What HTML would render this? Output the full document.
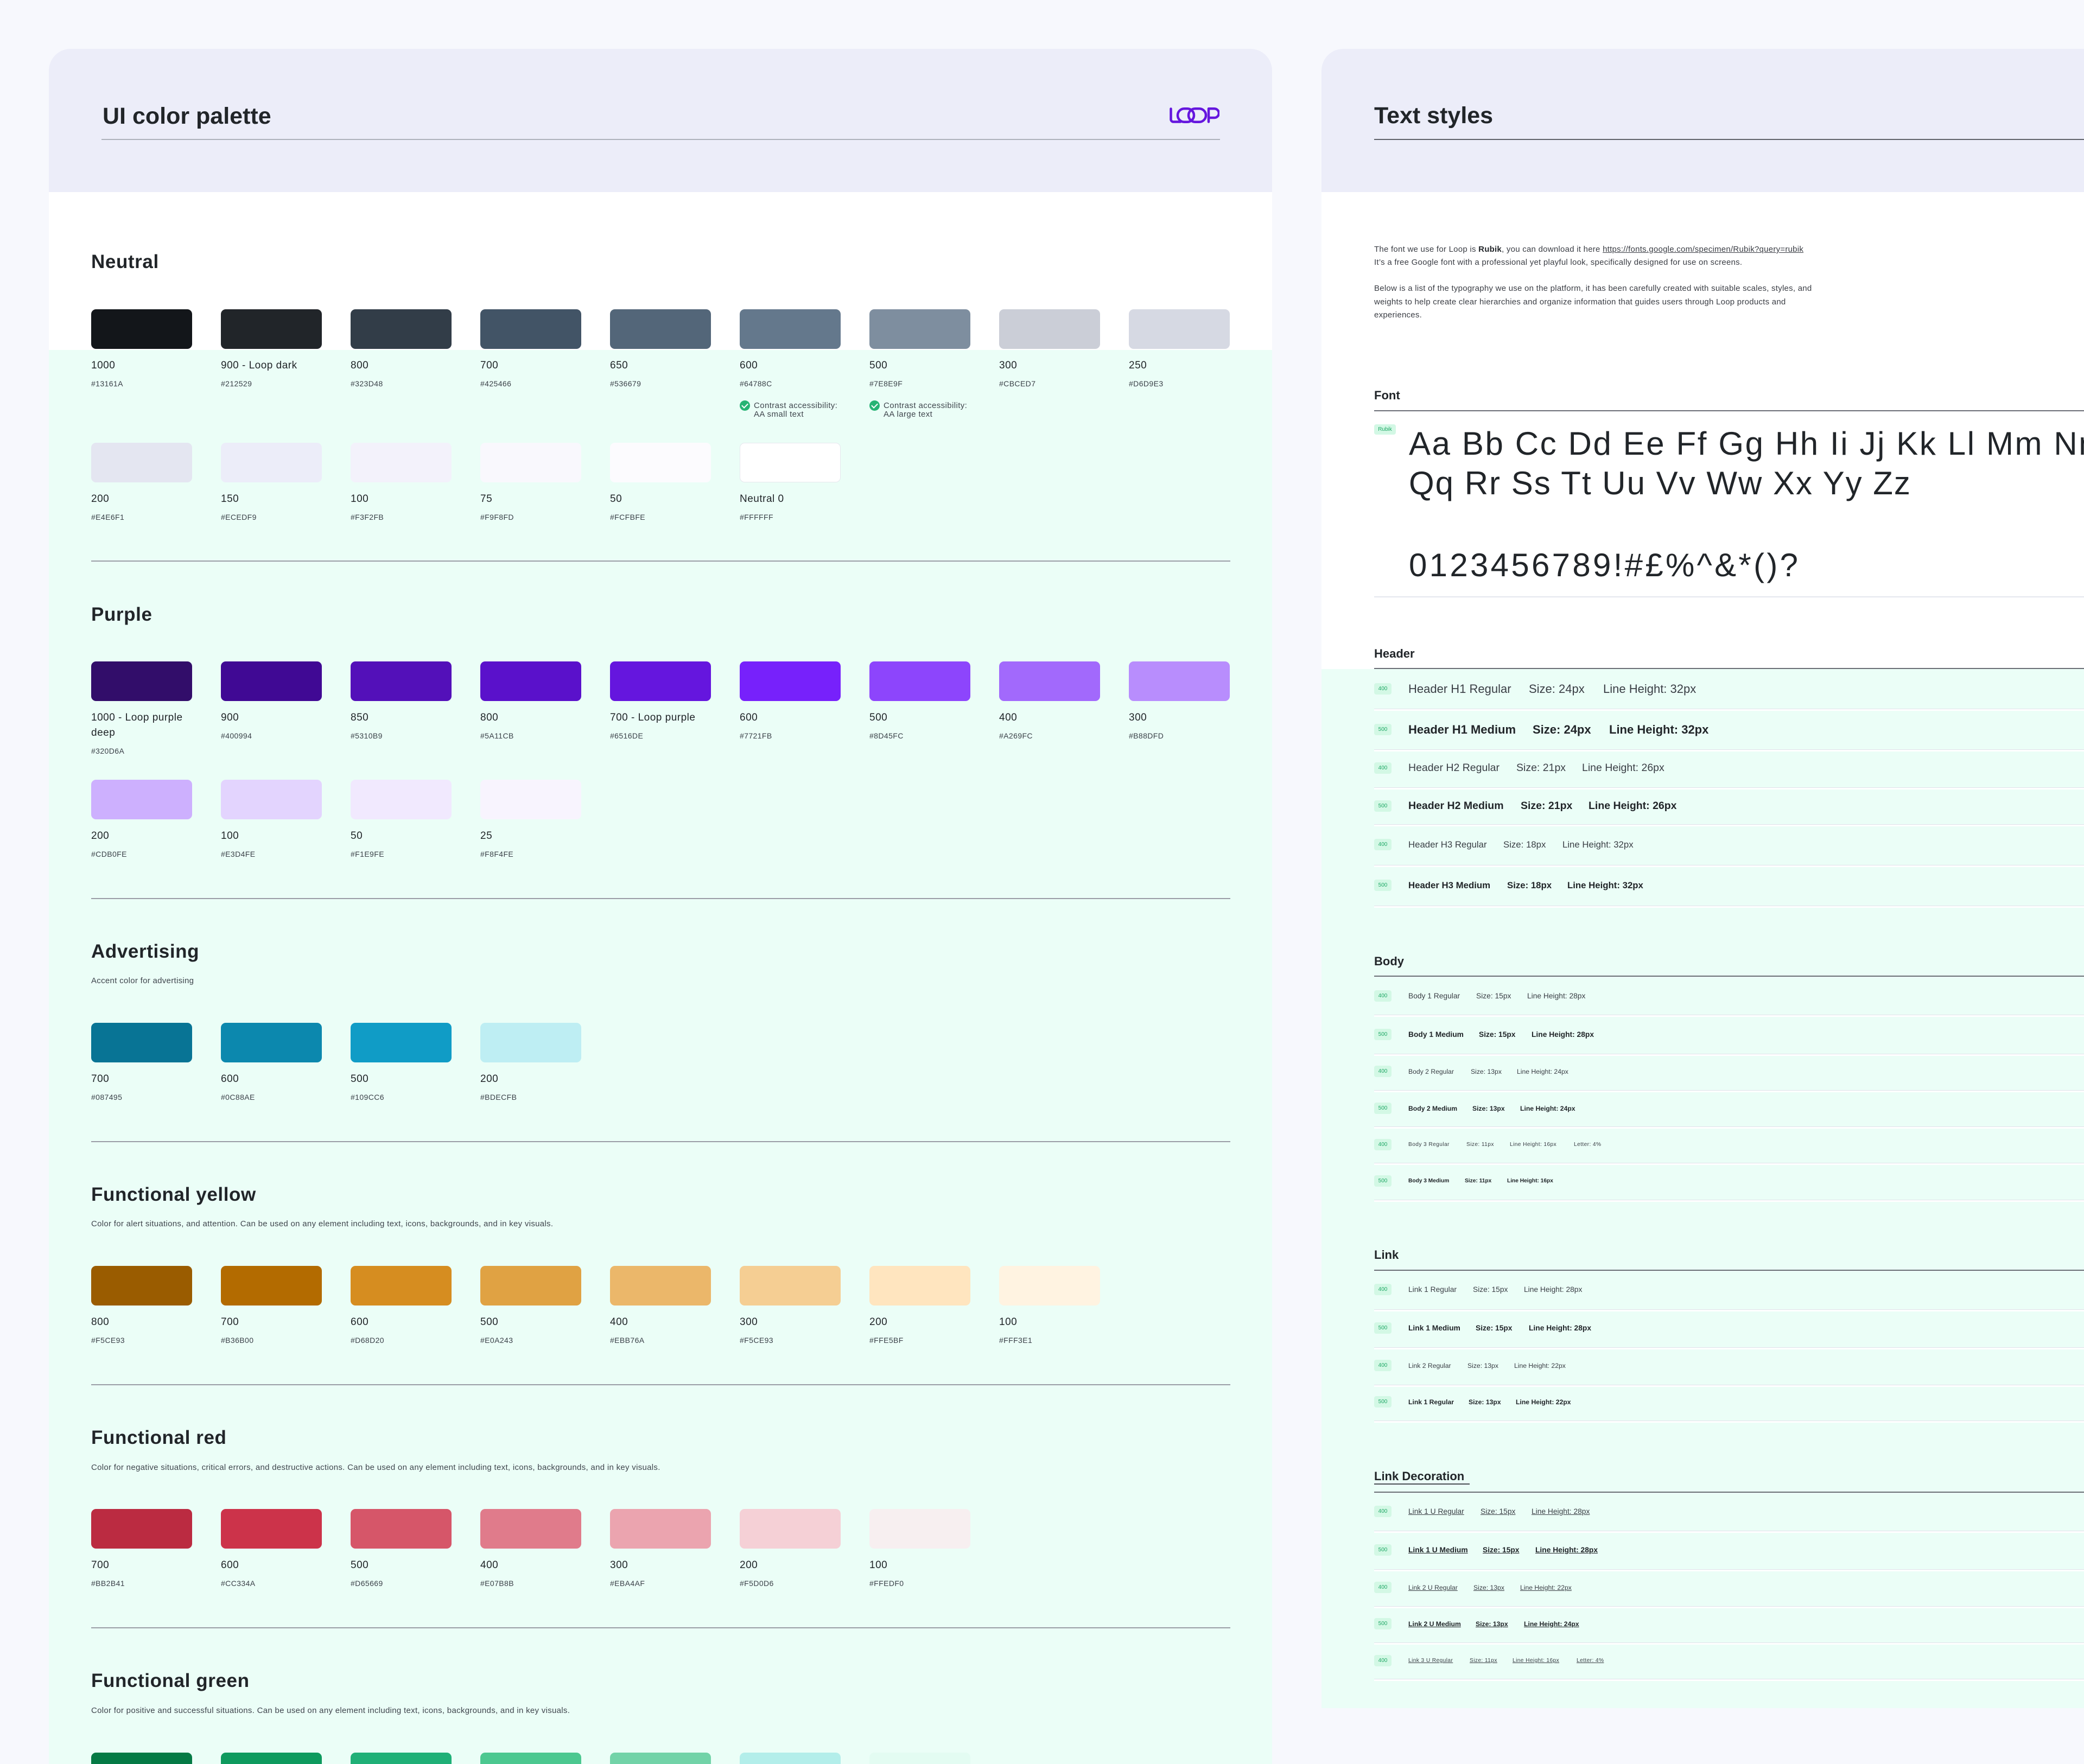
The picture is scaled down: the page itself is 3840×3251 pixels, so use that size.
<!DOCTYPE html>
<html><head><meta charset="utf-8">
<style>
*{margin:0;padding:0;box-sizing:border-box}
html,body{width:3840px;height:3251px;overflow:hidden;background:#F7F8FD;font-family:"Liberation Sans",sans-serif}
#root{position:relative;width:3840px;height:3251px;overflow:hidden}
.a{position:absolute}
.t{position:absolute;white-space:nowrap;line-height:1}
.sw{position:absolute;width:186px;height:73px;border-radius:9px}
.lb{font-size:19px;color:#212529;letter-spacing:.5px}
.hx{font-size:14px;color:#3a4048;letter-spacing:.4px}
.h{font-size:35px;font-weight:bold;color:#212529;letter-spacing:.6px}
.sb{font-size:15px;color:#3f454d;letter-spacing:.3px}
.dv{position:absolute;left:168px;width:2099px;height:2px;background:#9A9DA6}
.ck{position:absolute;width:19px;height:19px;border-radius:50%;background:#27B474}
.ck:after{content:"";position:absolute;left:6px;top:3px;width:5px;height:9px;border:solid #fff;border-width:0 2px 2px 0;transform:rotate(45deg)}
.ct{font-size:15px;color:#3f454d;letter-spacing:.4px}
.sh{font-size:22px;font-weight:bold;color:#212529;left:2532px}
.shl{position:absolute;left:2532px;width:1400px;height:2px;background:#6a6d75}
.sp{position:absolute;left:2532px;width:1400px;height:4px;border-top:1px solid #E0E2EA;background:#fff}
.tg{position:absolute;left:2532px;width:32px;height:21px;border-radius:4px;background:#D3F8E5;color:#1FA866;font-size:10px;line-height:21px;text-align:center}
.r{color:#3a3e45}
.m{color:#212529;font-weight:bold}
.u{text-decoration:underline}
.p{font-size:15px;color:#3a3d44;letter-spacing:.25px;left:2532px}
</style></head><body><div id="root">

<!-- LEFT CARD -->
<div class="a" style="left:90px;top:90px;width:2254px;height:3200px;background:#fff;border-radius:40px 40px 0 0;overflow:hidden">
  <div class="a" style="left:0;top:0;width:2254px;height:264px;background:#ECEDF9"></div>
  <div class="a" style="left:0;top:555px;width:2254px;height:2700px;background:#EBFEF7"></div>
</div>
<div class="t" style="left:189px;top:193px;font-size:43px;font-weight:bold;color:#212529">UI color palette</div>
<div class="a" style="left:187px;top:256px;width:2061px;height:2px;background:#AEB2BC"></div>
<svg class="a" style="left:2155px;top:198px" width="92" height="29" viewBox="0 0 92 29">
 <g fill="none" stroke="#6516DE" stroke-width="4.5" stroke-linecap="round" stroke-linejoin="round">
  <path d="M2.5,2.5 V22 a4.5,4.5 0 0 0 4.5,4.5 H20"/>
  <rect x="15" y="2.25" width="30" height="24.5" rx="12.25"/>
  <rect x="35" y="2.25" width="32" height="24.5" rx="12.25"/>
  <path d="M72,26.5 V2.25 H82.5 a8.4,8.4 0 0 1 0,16.8 H72"/>
 </g>
</svg>

<!-- Neutral -->
<div class="t h" style="left:168px;top:465px">Neutral</div>
<div class="sw" style="left:168px;top:570px;background:#13161A"></div>
<div class="sw" style="left:407px;top:570px;background:#212529"></div>
<div class="sw" style="left:646px;top:570px;background:#323D48"></div>
<div class="sw" style="left:885px;top:570px;background:#425466"></div>
<div class="sw" style="left:1124px;top:570px;background:#536679"></div>
<div class="sw" style="left:1363px;top:570px;background:#64788C"></div>
<div class="sw" style="left:1602px;top:570px;background:#7E8E9F"></div>
<div class="sw" style="left:1841px;top:570px;background:#CBCED7"></div>
<div class="sw" style="left:2080px;top:570px;background:#D6D9E3"></div>
<div class="t lb" style="left:168px;top:664px">1000</div><div class="t hx" style="left:168px;top:700px">#13161A</div>
<div class="t lb" style="left:407px;top:664px">900 - Loop dark</div><div class="t hx" style="left:407px;top:700px">#212529</div>
<div class="t lb" style="left:646px;top:664px">800</div><div class="t hx" style="left:646px;top:700px">#323D48</div>
<div class="t lb" style="left:885px;top:664px">700</div><div class="t hx" style="left:885px;top:700px">#425466</div>
<div class="t lb" style="left:1124px;top:664px">650</div><div class="t hx" style="left:1124px;top:700px">#536679</div>
<div class="t lb" style="left:1363px;top:664px">600</div><div class="t hx" style="left:1363px;top:700px">#64788C</div>
<div class="t lb" style="left:1602px;top:664px">500</div><div class="t hx" style="left:1602px;top:700px">#7E8E9F</div>
<div class="t lb" style="left:1841px;top:664px">300</div><div class="t hx" style="left:1841px;top:700px">#CBCED7</div>
<div class="t lb" style="left:2080px;top:664px">250</div><div class="t hx" style="left:2080px;top:700px">#D6D9E3</div>
<div class="ck" style="left:1363px;top:738px"></div>
<div class="t ct" style="left:1389px;top:740px">Contrast accessibility:</div>
<div class="t ct" style="left:1389px;top:756px">AA small text</div>
<div class="ck" style="left:1602px;top:738px"></div>
<div class="t ct" style="left:1628px;top:740px">Contrast accessibility:</div>
<div class="t ct" style="left:1628px;top:756px">AA large text</div>

<div class="sw" style="left:168px;top:816px;background:#E4E6F1"></div>
<div class="sw" style="left:407px;top:816px;background:#ECEDF9"></div>
<div class="sw" style="left:646px;top:816px;background:#F3F2FB"></div>
<div class="sw" style="left:885px;top:816px;background:#F9F8FD"></div>
<div class="sw" style="left:1124px;top:816px;background:#FCFBFE"></div>
<div class="sw" style="left:1363px;top:816px;background:#FFFFFF;border:1px solid #E6E7EE"></div>
<div class="t lb" style="left:168px;top:910px">200</div><div class="t hx" style="left:168px;top:946px">#E4E6F1</div>
<div class="t lb" style="left:407px;top:910px">150</div><div class="t hx" style="left:407px;top:946px">#ECEDF9</div>
<div class="t lb" style="left:646px;top:910px">100</div><div class="t hx" style="left:646px;top:946px">#F3F2FB</div>
<div class="t lb" style="left:885px;top:910px">75</div><div class="t hx" style="left:885px;top:946px">#F9F8FD</div>
<div class="t lb" style="left:1124px;top:910px">50</div><div class="t hx" style="left:1124px;top:946px">#FCFBFE</div>
<div class="t lb" style="left:1363px;top:910px">Neutral 0</div><div class="t hx" style="left:1363px;top:946px">#FFFFFF</div>

<div class="dv" style="top:1033px"></div>

<!-- Purple -->
<div class="t h" style="left:168px;top:1115px">Purple</div>
<div class="sw" style="left:168px;top:1219px;background:#320D6A"></div>
<div class="sw" style="left:407px;top:1219px;background:#400994"></div>
<div class="sw" style="left:646px;top:1219px;background:#5310B9"></div>
<div class="sw" style="left:885px;top:1219px;background:#5A11CB"></div>
<div class="sw" style="left:1124px;top:1219px;background:#6516DE"></div>
<div class="sw" style="left:1363px;top:1219px;background:#7721FB"></div>
<div class="sw" style="left:1602px;top:1219px;background:#8D45FC"></div>
<div class="sw" style="left:1841px;top:1219px;background:#A269FC"></div>
<div class="sw" style="left:2080px;top:1219px;background:#B88DFD"></div>
<div class="t lb" style="left:168px;top:1313px">1000 - Loop purple</div>
<div class="t lb" style="left:168px;top:1341px">deep</div>
<div class="t hx" style="left:168px;top:1377px">#320D6A</div>
<div class="t lb" style="left:407px;top:1313px">900</div><div class="t hx" style="left:407px;top:1349px">#400994</div>
<div class="t lb" style="left:646px;top:1313px">850</div><div class="t hx" style="left:646px;top:1349px">#5310B9</div>
<div class="t lb" style="left:885px;top:1313px">800</div><div class="t hx" style="left:885px;top:1349px">#5A11CB</div>
<div class="t lb" style="left:1124px;top:1313px">700 - Loop purple</div><div class="t hx" style="left:1124px;top:1349px">#6516DE</div>
<div class="t lb" style="left:1363px;top:1313px">600</div><div class="t hx" style="left:1363px;top:1349px">#7721FB</div>
<div class="t lb" style="left:1602px;top:1313px">500</div><div class="t hx" style="left:1602px;top:1349px">#8D45FC</div>
<div class="t lb" style="left:1841px;top:1313px">400</div><div class="t hx" style="left:1841px;top:1349px">#A269FC</div>
<div class="t lb" style="left:2080px;top:1313px">300</div><div class="t hx" style="left:2080px;top:1349px">#B88DFD</div>
<div class="sw" style="left:168px;top:1437px;background:#CDB0FE"></div>
<div class="sw" style="left:407px;top:1437px;background:#E3D4FE"></div>
<div class="sw" style="left:646px;top:1437px;background:#F1E9FE"></div>
<div class="sw" style="left:885px;top:1437px;background:#F8F4FE"></div>
<div class="t lb" style="left:168px;top:1531px">200</div><div class="t hx" style="left:168px;top:1567px">#CDB0FE</div>
<div class="t lb" style="left:407px;top:1531px">100</div><div class="t hx" style="left:407px;top:1567px">#E3D4FE</div>
<div class="t lb" style="left:646px;top:1531px">50</div><div class="t hx" style="left:646px;top:1567px">#F1E9FE</div>
<div class="t lb" style="left:885px;top:1531px">25</div><div class="t hx" style="left:885px;top:1567px">#F8F4FE</div>

<div class="dv" style="top:1655px"></div>

<!-- Advertising -->
<div class="t h" style="left:168px;top:1736px">Advertising</div>
<div class="t sb" style="left:168px;top:1800px">Accent color for advertising</div>
<div class="sw" style="left:168px;top:1885px;background:#087495"></div>
<div class="sw" style="left:407px;top:1885px;background:#0C88AE"></div>
<div class="sw" style="left:646px;top:1885px;background:#109CC6"></div>
<div class="sw" style="left:885px;top:1885px;background:#BEEEF3"></div>
<div class="t lb" style="left:168px;top:1979px">700</div><div class="t hx" style="left:168px;top:2015px">#087495</div>
<div class="t lb" style="left:407px;top:1979px">600</div><div class="t hx" style="left:407px;top:2015px">#0C88AE</div>
<div class="t lb" style="left:646px;top:1979px">500</div><div class="t hx" style="left:646px;top:2015px">#109CC6</div>
<div class="t lb" style="left:885px;top:1979px">200</div><div class="t hx" style="left:885px;top:2015px">#BDECFB</div>

<div class="dv" style="top:2103px"></div>

<!-- Yellow -->
<div class="t h" style="left:168px;top:2184px">Functional yellow</div>
<div class="t sb" style="left:168px;top:2248px">Color for alert situations, and attention. Can be used on any element including text, icons, backgrounds, and in key visuals.</div>
<div class="sw" style="left:168px;top:2333px;background:#9A5C00"></div>
<div class="sw" style="left:407px;top:2333px;background:#B36B00"></div>
<div class="sw" style="left:646px;top:2333px;background:#D68D20"></div>
<div class="sw" style="left:885px;top:2333px;background:#E0A243"></div>
<div class="sw" style="left:1124px;top:2333px;background:#EBB76A"></div>
<div class="sw" style="left:1363px;top:2333px;background:#F5CE93"></div>
<div class="sw" style="left:1602px;top:2333px;background:#FFE5BF"></div>
<div class="sw" style="left:1841px;top:2333px;background:#FFF3E1"></div>
<div class="t lb" style="left:168px;top:2427px">800</div><div class="t hx" style="left:168px;top:2463px">#F5CE93</div>
<div class="t lb" style="left:407px;top:2427px">700</div><div class="t hx" style="left:407px;top:2463px">#B36B00</div>
<div class="t lb" style="left:646px;top:2427px">600</div><div class="t hx" style="left:646px;top:2463px">#D68D20</div>
<div class="t lb" style="left:885px;top:2427px">500</div><div class="t hx" style="left:885px;top:2463px">#E0A243</div>
<div class="t lb" style="left:1124px;top:2427px">400</div><div class="t hx" style="left:1124px;top:2463px">#EBB76A</div>
<div class="t lb" style="left:1363px;top:2427px">300</div><div class="t hx" style="left:1363px;top:2463px">#F5CE93</div>
<div class="t lb" style="left:1602px;top:2427px">200</div><div class="t hx" style="left:1602px;top:2463px">#FFE5BF</div>
<div class="t lb" style="left:1841px;top:2427px">100</div><div class="t hx" style="left:1841px;top:2463px">#FFF3E1</div>

<div class="dv" style="top:2551px"></div>

<!-- Red -->
<div class="t h" style="left:168px;top:2632px">Functional red</div>
<div class="t sb" style="left:168px;top:2697px">Color for negative situations, critical errors, and destructive actions. Can be used on any element including text, icons, backgrounds, and in key visuals.</div>
<div class="sw" style="left:168px;top:2781px;background:#BB2B41"></div>
<div class="sw" style="left:407px;top:2781px;background:#CC334A"></div>
<div class="sw" style="left:646px;top:2781px;background:#D65669"></div>
<div class="sw" style="left:885px;top:2781px;background:#E07B8B"></div>
<div class="sw" style="left:1124px;top:2781px;background:#EBA4AF"></div>
<div class="sw" style="left:1363px;top:2781px;background:#F5D0D6"></div>
<div class="sw" style="left:1602px;top:2781px;background:#F7EFF0"></div>
<div class="t lb" style="left:168px;top:2875px">700</div><div class="t hx" style="left:168px;top:2911px">#BB2B41</div>
<div class="t lb" style="left:407px;top:2875px">600</div><div class="t hx" style="left:407px;top:2911px">#CC334A</div>
<div class="t lb" style="left:646px;top:2875px">500</div><div class="t hx" style="left:646px;top:2911px">#D65669</div>
<div class="t lb" style="left:885px;top:2875px">400</div><div class="t hx" style="left:885px;top:2911px">#E07B8B</div>
<div class="t lb" style="left:1124px;top:2875px">300</div><div class="t hx" style="left:1124px;top:2911px">#EBA4AF</div>
<div class="t lb" style="left:1363px;top:2875px">200</div><div class="t hx" style="left:1363px;top:2911px">#F5D0D6</div>
<div class="t lb" style="left:1602px;top:2875px">100</div><div class="t hx" style="left:1602px;top:2911px">#FFEDF0</div>

<div class="dv" style="top:2999px"></div>

<!-- Green -->
<div class="t h" style="left:168px;top:3080px">Functional green</div>
<div class="t sb" style="left:168px;top:3145px">Color for positive and successful situations. Can be used on any element including text, icons, backgrounds, and in key visuals.</div>
<div class="sw" style="left:168px;top:3230px;background:#057A45"></div>
<div class="sw" style="left:407px;top:3230px;background:#0E9A5E"></div>
<div class="sw" style="left:646px;top:3230px;background:#1FB077"></div>
<div class="sw" style="left:885px;top:3230px;background:#4CC890"></div>
<div class="sw" style="left:1124px;top:3230px;background:#72D3A8"></div>
<div class="sw" style="left:1363px;top:3230px;background:#B3EEEA"></div>
<div class="sw" style="left:1602px;top:3230px;background:#E3FCF2"></div>

<!-- RIGHT CARD -->
<div class="a" style="left:2435px;top:90px;width:1405px;height:3058px;background:#fff;border-radius:40px 0 0 0;overflow:hidden">
  <div class="a" style="left:0;top:0;width:1405px;height:264px;background:#ECEDF9"></div>
  <div class="a" style="left:0;top:1143px;width:1405px;height:1915px;background:#EBFEF7"></div>
</div>
<div class="t" style="left:2532px;top:192px;font-size:43px;font-weight:bold;color:#212529">Text styles</div>
<div class="a" style="left:2532px;top:256px;width:1308px;height:2px;background:#5f626a"></div>

<div class="t p" style="top:452px">The font we use for Loop is <b style="color:#212529">Rubik</b>, you can download it here <span class="u">https://fonts.google.com/specimen/Rubik?query=rubik</span></div>
<div class="t p" style="top:476px">It’s a free Google font with a professional yet playful look, specifically designed for use on screens.</div>
<div class="t p" style="top:524px">Below is a list of the typography we use on the platform, it has been carefully created with suitable scales, styles, and</div>
<div class="t p" style="top:549px">weights to help create clear hierarchies and organize information that guides users through Loop products and</div>
<div class="t p" style="top:573px">experiences.</div>

<div class="t sh" style="top:718px">Font</div>
<div class="shl" style="top:756px;width:1308px"></div>
<div class="a" style="left:2532px;top:782px;width:40px;height:19px;border-radius:4px;background:#D3F8E5;color:#1FA866;font-size:10px;line-height:19px;text-align:center">Rubik</div>
<div class="a" style="left:2596px;top:780px;width:1244px;height:300px;overflow:hidden">
<div class="t" style="left:0;top:8px;font-size:60px;color:#212529;letter-spacing:2.6px">Aa Bb Cc Dd Ee Ff Gg Hh Ii Jj Kk Ll Mm Nn Oo Pp</div>
<div class="t" style="left:0;top:81px;font-size:60px;color:#212529;letter-spacing:2px">Qq Rr Ss Tt Uu Vv Ww Xx Yy Zz</div>
<div class="t" style="left:0;top:232px;font-size:60px;color:#212529;letter-spacing:4.3px">0123456789!#£%^&amp;*()?</div>
</div>
<div class="a" style="left:2532px;top:1099px;width:1308px;height:2px;background:#E4E6EE"></div>

<!-- Header -->
<div class="t sh" style="top:1194px">Header</div>
<div class="shl" style="top:1231px;width:1308px"></div>
<div class="tg" style="top:1259px">400</div>
<div class="t r" style="left:2595px;top:1259px;font-size:22px">Header H1 Regular</div>
<div class="t r" style="left:2817px;top:1259px;font-size:22px">Size: 24px</div>
<div class="t r" style="left:2954px;top:1259px;font-size:22px">Line Height: 32px</div>
<div class="sp" style="top:1306px;width:1308px"></div>
<div class="tg" style="top:1334px">500</div>
<div class="t m" style="left:2595px;top:1334px;font-size:22px">Header H1 Medium</div>
<div class="t m" style="left:2824px;top:1334px;font-size:22px">Size: 24px</div>
<div class="t m" style="left:2965px;top:1334px;font-size:22px">Line Height: 32px</div>
<div class="sp" style="top:1381px;width:1308px"></div>
<div class="tg" style="top:1405px">400</div>
<div class="t r" style="left:2595px;top:1406px;font-size:19.5px">Header H2 Regular</div>
<div class="t r" style="left:2794px;top:1406px;font-size:19.5px">Size: 21px</div>
<div class="t r" style="left:2915px;top:1406px;font-size:19.5px">Line Height: 26px</div>
<div class="sp" style="top:1451px;width:1308px"></div>
<div class="tg" style="top:1475px">500</div>
<div class="t m" style="left:2595px;top:1476px;font-size:19.5px">Header H2 Medium</div>
<div class="t m" style="left:2802px;top:1476px;font-size:19.5px">Size: 21px</div>
<div class="t m" style="left:2927px;top:1476px;font-size:19.5px">Line Height: 26px</div>
<div class="sp" style="top:1519px;width:1308px"></div>
<div class="tg" style="top:1546px">400</div>
<div class="t r" style="left:2595px;top:1549px;font-size:16.8px">Header H3 Regular</div>
<div class="t r" style="left:2770px;top:1549px;font-size:16.8px">Size: 18px</div>
<div class="t r" style="left:2879px;top:1549px;font-size:16.8px">Line Height: 32px</div>
<div class="sp" style="top:1594px;width:1308px"></div>
<div class="tg" style="top:1621px">500</div>
<div class="t m" style="left:2595px;top:1624px;font-size:16.8px">Header H3 Medium</div>
<div class="t m" style="left:2777px;top:1624px;font-size:16.8px">Size: 18px</div>
<div class="t m" style="left:2888px;top:1624px;font-size:16.8px">Line Height: 32px</div>
<div class="sp" style="top:1669px;width:1308px"></div>

<!-- Body -->
<div class="t sh" style="top:1761px">Body</div>
<div class="shl" style="top:1798px;width:1308px"></div>
<div class="tg" style="top:1825px">400</div>
<div class="t r" style="left:2595px;top:1829px;font-size:13.8px">Body 1 Regular</div>
<div class="t r" style="left:2720px;top:1829px;font-size:13.8px">Size: 15px</div>
<div class="t r" style="left:2814px;top:1829px;font-size:13.8px">Line Height: 28px</div>
<div class="sp" style="top:1870px;width:1308px"></div>
<div class="tg" style="top:1896px">500</div>
<div class="t m" style="left:2595px;top:1900px;font-size:13.8px">Body 1 Medium</div>
<div class="t m" style="left:2725px;top:1900px;font-size:13.8px">Size: 15px</div>
<div class="t m" style="left:2822px;top:1900px;font-size:13.8px">Line Height: 28px</div>
<div class="sp" style="top:1942px;width:1308px"></div>
<div class="tg" style="top:1964px">400</div>
<div class="t r" style="left:2595px;top:1969px;font-size:12.2px">Body 2 Regular</div>
<div class="t r" style="left:2710px;top:1969px;font-size:12.2px">Size: 13px</div>
<div class="t r" style="left:2795px;top:1969px;font-size:12.2px">Line Height: 24px</div>
<div class="sp" style="top:2009px;width:1308px"></div>
<div class="tg" style="top:2032px">500</div>
<div class="t m" style="left:2595px;top:2037px;font-size:12.2px">Body 2 Medium</div>
<div class="t m" style="left:2713px;top:2037px;font-size:12.2px">Size: 13px</div>
<div class="t m" style="left:2801px;top:2037px;font-size:12.2px">Line Height: 24px</div>
<div class="sp" style="top:2076px;width:1308px"></div>
<div class="tg" style="top:2099px">400</div>
<div class="t r" style="left:2595px;top:2105px;font-size:10.2px;letter-spacing:.4px">Body 3 Regular</div>
<div class="t r" style="left:2702px;top:2105px;font-size:10.2px;letter-spacing:.4px">Size: 11px</div>
<div class="t r" style="left:2782px;top:2105px;font-size:10.2px;letter-spacing:.4px">Line Height: 16px</div>
<div class="t r" style="left:2900px;top:2105px;font-size:10.2px;letter-spacing:.4px">Letter: 4%</div>
<div class="sp" style="top:2143px;width:1308px"></div>
<div class="tg" style="top:2166px">500</div>
<div class="t m" style="left:2595px;top:2172px;font-size:10.2px">Body 3 Medium</div>
<div class="t m" style="left:2699px;top:2172px;font-size:10.2px">Size: 11px</div>
<div class="t m" style="left:2777px;top:2172px;font-size:10.2px">Line Height: 16px</div>
<div class="sp" style="top:2211px;width:1308px"></div>

<!-- Link -->
<div class="t sh" style="top:2302px">Link</div>
<div class="shl" style="top:2340px;width:1308px"></div>
<div class="tg" style="top:2366px">400</div>
<div class="t r" style="left:2595px;top:2370px;font-size:13.8px">Link 1 Regular</div>
<div class="t r" style="left:2714px;top:2370px;font-size:13.8px">Size: 15px</div>
<div class="t r" style="left:2808px;top:2370px;font-size:13.8px">Line Height: 28px</div>
<div class="sp" style="top:2413px;width:1308px"></div>
<div class="tg" style="top:2437px">500</div>
<div class="t m" style="left:2595px;top:2441px;font-size:13.8px">Link 1 Medium</div>
<div class="t m" style="left:2719px;top:2441px;font-size:13.8px">Size: 15px</div>
<div class="t m" style="left:2817px;top:2441px;font-size:13.8px">Line Height: 28px</div>
<div class="sp" style="top:2483px;width:1308px"></div>
<div class="tg" style="top:2506px">400</div>
<div class="t r" style="left:2595px;top:2511px;font-size:12.2px">Link 2 Regular</div>
<div class="t r" style="left:2704px;top:2511px;font-size:12.2px">Size: 13px</div>
<div class="t r" style="left:2790px;top:2511px;font-size:12.2px">Line Height: 22px</div>
<div class="sp" style="top:2552px;width:1308px"></div>
<div class="tg" style="top:2573px">500</div>
<div class="t m" style="left:2595px;top:2578px;font-size:12.2px">Link 1 Regular</div>
<div class="t m" style="left:2706px;top:2578px;font-size:12.2px">Size: 13px</div>
<div class="t m" style="left:2793px;top:2578px;font-size:12.2px">Line Height: 22px</div>
<div class="sp" style="top:2618px;width:1308px"></div>

<!-- Link Decoration -->
<div class="t sh" style="top:2710px">Link Decoration</div>
<div class="a" style="left:2532px;top:2734px;width:176px;height:2px;background:#4a4d55"></div>
<div class="shl" style="top:2749px;width:1308px"></div>
<div class="tg" style="top:2775px">400</div>
<div class="t r u" style="left:2595px;top:2779px;font-size:13.8px">Link 1 U Regular</div>
<div class="t r u" style="left:2728px;top:2779px;font-size:13.8px">Size: 15px</div>
<div class="t r u" style="left:2822px;top:2779px;font-size:13.8px">Line Height: 28px</div>
<div class="sp" style="top:2821px;width:1308px"></div>
<div class="tg" style="top:2846px">500</div>
<div class="t m u" style="left:2595px;top:2850px;font-size:13.8px">Link 1 U Medium</div>
<div class="t m u" style="left:2732px;top:2850px;font-size:13.8px">Size: 15px</div>
<div class="t m u" style="left:2829px;top:2850px;font-size:13.8px">Line Height: 28px</div>
<div class="sp" style="top:2892px;width:1308px"></div>
<div class="tg" style="top:2915px">400</div>
<div class="t r u" style="left:2595px;top:2920px;font-size:12.2px">Link 2 U Regular</div>
<div class="t r u" style="left:2715px;top:2920px;font-size:12.2px">Size: 13px</div>
<div class="t r u" style="left:2801px;top:2920px;font-size:12.2px">Line Height: 22px</div>
<div class="sp" style="top:2960px;width:1308px"></div>
<div class="tg" style="top:2982px">500</div>
<div class="t m u" style="left:2595px;top:2987px;font-size:12.2px">Link 2 U Medium</div>
<div class="t m u" style="left:2719px;top:2987px;font-size:12.2px">Size: 13px</div>
<div class="t m u" style="left:2808px;top:2987px;font-size:12.2px">Line Height: 24px</div>
<div class="sp" style="top:3027px;width:1308px"></div>
<div class="tg" style="top:3050px">400</div>
<div class="t r u" style="left:2595px;top:3056px;font-size:10.2px;letter-spacing:.4px">Link 3 U Regular</div>
<div class="t r u" style="left:2708px;top:3056px;font-size:10.2px;letter-spacing:.4px">Size: 11px</div>
<div class="t r u" style="left:2787px;top:3056px;font-size:10.2px;letter-spacing:.4px">Line Height: 16px</div>
<div class="t r u" style="left:2905px;top:3056px;font-size:10.2px;letter-spacing:.4px">Letter: 4%</div>
<div class="sp" style="top:3094px;width:1308px"></div>

</div></body></html>
